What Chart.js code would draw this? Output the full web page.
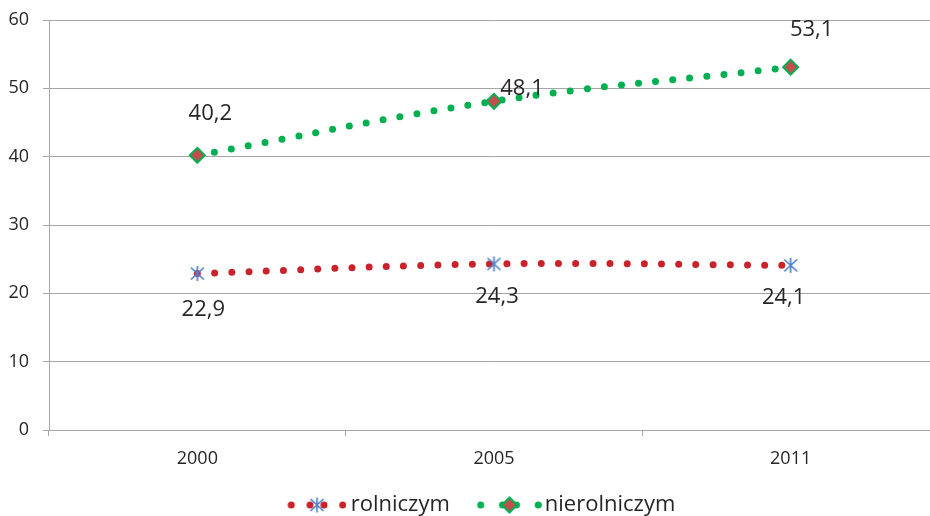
<!DOCTYPE html>
<html><head><meta charset="utf-8">
<script src="https://cdn.jsdelivr.net/npm/chart.js@4/dist/chart.umd.min.js"></script>
<style>
html,body{margin:0;padding:0;overflow:hidden;background:#fff;width:930px;height:516px}
#wrap{position:relative;width:954px;height:526px}
</style></head>
<body><div id="wrap"><canvas id="c" width="954" height="526"></canvas></div>
<script>
// ---- data ----
const categories = ['2000', '2005', '2011'];
const seriesNames = ['rolniczym', 'nierolniczym'];
const rolniczym = [22.9, 24.3, 24.1];
const nierolniczym = [40.2, 48.1, 53.1];
const yMin = 0, yMax = 60, yStep = 10;

// ---- styles ----
const RED_DOT = '#c9222b';
const GREEN = '#00b050';
const MARKER_FILL = '#c0504d';
const STAR_BLUE = '#4f81c9';
const TEXT = '#262626';
const GRID = '#a6a6a6';
const FONT = "'Open Sans', sans-serif";

function drawStar(g, x, y) {
  g.save();
  g.strokeStyle = STAR_BLUE; g.lineWidth = 1.7; g.lineCap = 'butt';
  g.beginPath();
  g.moveTo(x, y - 7.5); g.lineTo(x, y + 7.5);
  g.moveTo(x - 6.5, y - 6); g.lineTo(x + 6.5, y + 6);
  g.moveTo(x + 6.5, y - 6); g.lineTo(x - 6.5, y + 6);
  g.stroke();
  g.restore();
}
function drawDiamond(g, x, y) {
  g.save();
  g.fillStyle = MARKER_FILL; g.strokeStyle = GREEN; g.lineWidth = 2;
  g.beginPath();
  g.moveTo(x - 7.5, y); g.lineTo(x, y - 7.5); g.lineTo(x + 7.5, y); g.lineTo(x, y + 7.5); g.closePath();
  g.fill(); g.stroke();
  g.restore();
}
function starImage() {
  const c = document.createElement('canvas'); c.width = 17; c.height = 17;
  drawStar(c.getContext('2d'), 8.5, 8.5); return c;
}
// legend sample images (dotted line with marker in the middle)
function legendImage(w, cx, half, dotColor, markerFn) {
  const c = document.createElement('canvas'); c.width = w; c.height = 18;
  const g = c.getContext('2d');
  const cy = 9;
  g.fillStyle = dotColor;
  [-half, -7, 7, half].forEach(d => { g.beginPath(); g.arc(cx + d, cy, 3.5, 0, Math.PI * 2); g.fill(); });
  markerFn(g, cx, cy);
  return c;
}
const legendImgs = [
  legendImage(75, 45.75, 25.75, RED_DOT, drawStar),
  legendImage(78, 45.65, 28.75, GREEN, drawDiamond)
];

// label offsets (baseline) relative to each point
const labelOffsets = [
  [[6, 42.5], [3, 39.5], [-7, 38.7]],
  [[13, -35.8], [28, -6.3], [21, -30.7]]
];

const dataLabels = {
  id: 'dataLabels',
  afterDatasetsDraw(chart) {
    const ctx = chart.ctx;
    ctx.save();
    ctx.font = "22px " + FONT;
    ctx.fillStyle = TEXT;
    ctx.textAlign = 'center';
    ctx.textBaseline = 'alphabetic';
    chart.data.datasets.forEach((ds, di) => {
      const meta = chart.getDatasetMeta(di);
      meta.data.forEach((pt, i) => {
        const o = labelOffsets[di][i];
        ctx.fillText(ds.data[i].toFixed(1).replace('.', ','), pt.x + o[0], pt.y + o[1]);
      });
    });
    ctx.restore();
  }
};

new Chart(document.getElementById('c'), {
  type: 'line',
  data: {
    labels: categories,
    datasets: [
      {
        label: seriesNames[0], data: rolniczym,
        borderColor: RED_DOT, borderWidth: 7, borderDash: [0, 17.2], borderCapStyle: 'round',
        tension: 0.4, fill: false,
        pointStyle: starImage(), pointRadius: 8, pointHoverRadius: 8
      },
      {
        label: seriesNames[1], data: nierolniczym,
        borderColor: GREEN, borderWidth: 7, borderDash: [0, 17.2], borderCapStyle: 'round',
        tension: 0.4, fill: false,
        pointStyle: 'rectRot', pointRadius: 7.5, pointHoverRadius: 7.5,
        pointBackgroundColor: MARKER_FILL, pointBorderColor: GREEN, pointBorderWidth: 2
      }
    ]
  },
  options: {
    responsive: false,
    animation: false,
    devicePixelRatio: 1,
    layout: { padding: { top: 20, right: 1, left: 0, bottom: 0 } },
    scales: {
      x: {
        offset: true,
        grid: { offset: true, drawOnChartArea: false, tickLength: 6, color: GRID },
        border: { color: GRID },
        ticks: { font: { family: FONT, size: 18 }, color: TEXT, padding: 12 },
        afterFit(s) { s.height = 42; s.paddingLeft = 0; s.paddingRight = 0; }
      },
      y: {
        min: yMin, max: yMax,
        grid: { color: GRID, tickLength: 6 },
        border: { color: GRID },
        ticks: { stepSize: yStep, font: { family: FONT, size: 18 }, color: TEXT, padding: 14 },
        afterFit(s) { s.width = 49; s.paddingTop = 0; s.paddingBottom = 0; }
      }
    },
    plugins: {
      tooltip: { enabled: false },
      legend: {
        position: 'bottom',
        labels: {
          usePointStyle: true,
          pointStyleWidth: 62,
          padding: 22,
          font: { family: FONT, size: 22 },
          color: TEXT,
          generateLabels(chart) {
            const items = Chart.defaults.plugins.legend.labels.generateLabels(chart);
            items.forEach((it, i) => { it.pointStyle = legendImgs[i]; it.fontColor = TEXT; });
            return items;
          }
        }
      }
    }
  },
  plugins: [dataLabels]
});
</script>
</body></html>
